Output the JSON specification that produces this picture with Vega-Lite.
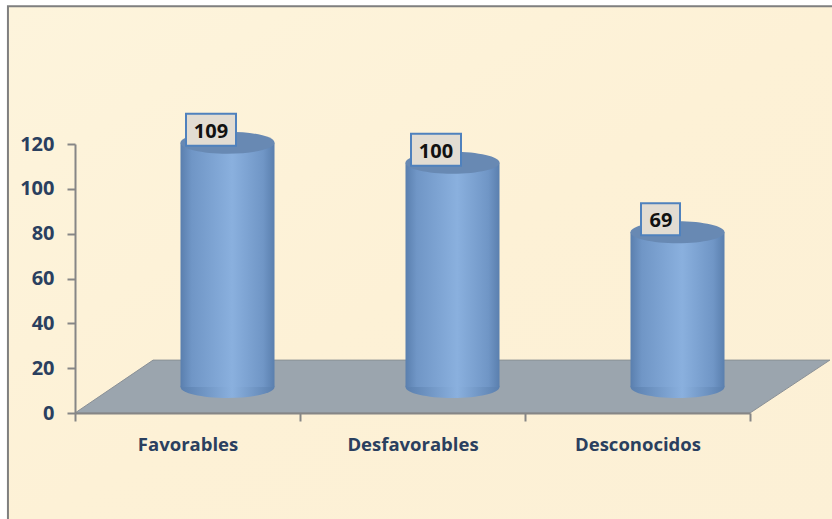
{"$schema":"https://vega.github.io/schema/vega-lite/v6.json","width":675,"height":269,"autosize":"none","padding":{"left":75,"top":144,"right":82,"bottom":106},"background":"white","config":{"view":{"stroke":null},"font":"Open Sans"},
"datasets":{"main":[{"categoria":"Favorables","valor":109},{"categoria":"Desfavorables","valor":100},{"categoria":"Desconocidos","valor":69}],
"panel":[{"a":-0.298,"b":3.42,"lo":-55,"hi":181.4}],
"suelo":[{"p":0,"alto":0,"bajo":0},{"p":0.347,"alto":23.6,"bajo":0},{"p":3,"alto":23.6,"bajo":0},{"p":3.355,"alto":23.6,"bajo":23.6}]},
"resolve":{"scale":{"x":"independent"},"axis":{"x":"independent"}},
"layer":[
{"data":{"name":"panel"},"mark":{"type":"rect","fill":{"x1":0,"y1":0,"x2":1,"y2":1,"gradient":"linear","stops":[{"offset":0,"color":"#fdf4dc"},{"offset":0.5,"color":"#fdf1d6"},{"offset":1,"color":"#fcf0d6"}]},"stroke":"#7f7f7f","strokeWidth":2},
"encoding":{"x":{"field":"a","type":"quantitative","scale":{"domain":[0,3],"nice":false,"zero":false},"axis":null},"x2":{"field":"b"},"y":{"field":"lo","type":"quantitative","scale":{"domain":[0,120],"nice":false},"axis":{"title":null,"values":[0,20,40,60,80,100,120],"grid":false,"labelFontSize":20,"labelFontWeight":"bold","labelColor":"#2a3f5f","labelPadding":13,"domainColor":"#868686","domainWidth":2,"tickColor":"#868686","tickWidth":2,"tickSize":8,"zindex":1,"labelFont":"Open Sans"}},"y2":{"field":"hi"}}},
{"data":{"name":"suelo"},"mark":{"type":"area","fill":"#9ba5ae","stroke":"#8a9096","strokeWidth":1,"interpolate":"linear","orient":"vertical"},
"encoding":{"x":{"field":"p","type":"quantitative","sort":null,"scale":{"domain":[0,3],"nice":false,"zero":false},"axis":null},"y":{"field":"alto","type":"quantitative"},"y2":{"field":"bajo"}}},
{"data":{"name":"main"},
"encoding":{"x":{"field":"categoria","type":"nominal","sort":null,"scale":{"type":"band","paddingInner":0,"paddingOuter":0},"axis":{"title":null,"labelAngle":0,"labelFontSize":18.5,"labelFontWeight":"bold","labelColor":"#2a3f5f","labelPadding":14,"domainColor":"#868686","domainWidth":2,"tickColor":"#868686","tickWidth":2,"tickSize":8,"tickBand":"extent","zindex":1,"labelFont":"Open Sans"}}},
"layer":[
{"mark":{"type":"point","filled":true,"opacity":1,"size":4,"shape":"M-47,0A47,11 0 1 1 47,0A47,11 0 1 1 -47,0Z","xOffset":40,"yOffset":-26,"fill":{"x1":0,"y1":0,"x2":1,"y2":0,"gradient":"linear","stops":[{"offset":0,"color":"#5a7fae"},{"offset":0.55,"color":"#8ab0de"},{"offset":1,"color":"#5a7fae"}]}},"encoding":{"y":{"datum":0,"type":"quantitative"}}},
{"mark":{"type":"bar","width":94,"xOffset":40,"yOffset":-26,"y2Offset":-26,"fill":{"x1":0,"y1":0,"x2":1,"y2":0,"gradient":"linear","stops":[{"offset":0,"color":"#5a7fae"},{"offset":0.12,"color":"#7096c6"},{"offset":0.55,"color":"#8ab0de"},{"offset":0.88,"color":"#7096c6"},{"offset":1,"color":"#5a7fae"}]}},"encoding":{"y":{"field":"valor","type":"quantitative"}}},
{"mark":{"type":"point","filled":true,"opacity":1,"size":4,"shape":"M-47,0A47,11 0 1 1 47,0A47,11 0 1 1 -47,0Z","xOffset":40,"yOffset":-26,"fill":"#6889b3"},"encoding":{"y":{"field":"valor","type":"quantitative"}}},
{"transform":[{"filter":"datum.valor>=100"}],"mark":{"type":"point","filled":false,"opacity":1,"size":4,"shape":"M-25,-16H25V16H-25Z","xOffset":23.5,"yOffset":-39,"fill":"#e2dcd2","fillOpacity":1,"stroke":"#4f81bd","strokeWidth":2},"encoding":{"y":{"field":"valor","type":"quantitative"}}},
{"transform":[{"filter":"datum.valor<100"}],"mark":{"type":"point","filled":false,"opacity":1,"size":4,"shape":"M-19.5,-16H19.5V16H-19.5Z","xOffset":23,"yOffset":-39,"fill":"#e2dcd2","fillOpacity":1,"stroke":"#4f81bd","strokeWidth":2},"encoding":{"y":{"field":"valor","type":"quantitative"}}},
{"mark":{"type":"text","fontSize":20,"fontWeight":"bold","font":"Open Sans","color":"#111111","xOffset":23.5,"yOffset":-37},"encoding":{"y":{"field":"valor","type":"quantitative"},"text":{"field":"valor","type":"quantitative"}}}
]}
]}
